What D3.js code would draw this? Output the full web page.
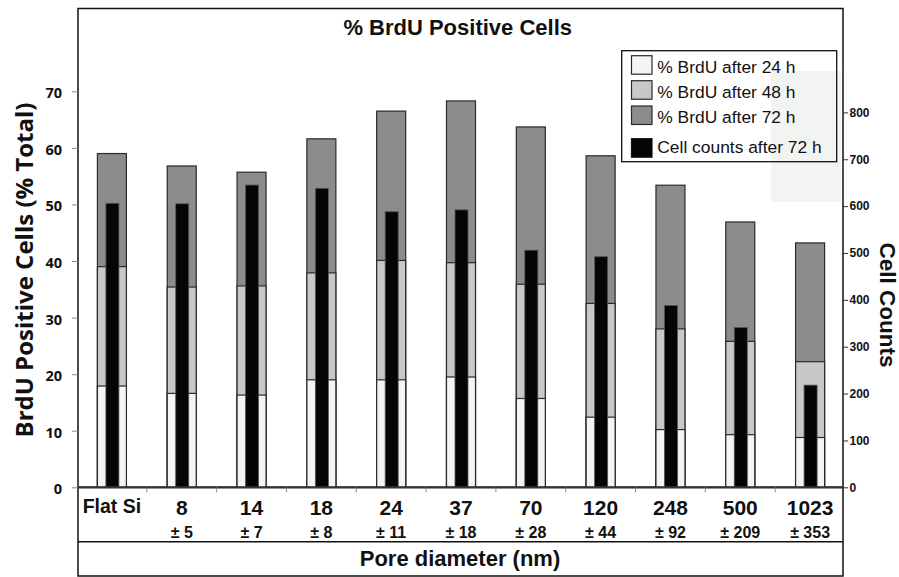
<!DOCTYPE html>
<html><head><meta charset="utf-8">
<script src="https://cdn.jsdelivr.net/npm/d3@7"></script>
<style>html,body{margin:0;padding:0;background:#fff;}svg{display:block;}</style>
</head><body>
<svg id="chart" width="899" height="577"></svg>
<script>
// ---- data ----
const categories = ["Flat Si","8","14","18","24","37","70","120","248","500","1023"];
const poreSD = ["","± 5","± 7","± 8","± 11","± 18","± 28","± 44","± 92","± 209","± 353"];
const brdu24 = [17.9,16.6,16.3,19.0,19.0,19.5,15.7,12.4,10.2,9.3,8.8];
const brdu48 = [39.0,35.4,35.6,37.9,40.1,39.7,35.9,32.5,28.0,25.8,22.2];
const brdu72 = [59.0,56.8,55.7,61.6,66.5,68.3,63.7,58.6,53.4,46.9,43.2];
const cellCounts = [606,605,645,638,588,592,506,492,388,341,218];
const leftTicks = [0,10,20,30,40,50,60,70];
const rightTicks = [0,100,200,300,400,500,600,700,800];
const legendLabels = ["% BrdU after 24 h","% BrdU after 48 h","% BrdU after 72 h","Cell counts after 72 h"];
const titleText = "% BrdU Positive Cells";
const yLeftTitle = "BrdU Positive Cells (% Total)";
const yRightTitle = "Cell Counts";
const xTitle = "Pore diameter (nm)";

// ---- layout ----
const svg = d3.select("#chart");
const L = 78, R = 843, T = 8.5, B = 487.3, labBot = 541.7, bot = 576;
const col24 = "#f3f4f3", col48 = "#c8c8c8", col72 = "#8c8c8c", colCell = "#050505", edge = "#2a2a2a";

const x = d3.scaleBand().domain(categories).range([77, 845]);
const yL = d3.scaleLinear().domain([0,70]).range([B, 91.3]);
const yR = d3.scaleLinear().domain([0,800]).range([B, 112.4]);
const bw = 29, cw = 13;
const cx = c => x(c) + x.bandwidth()/2;

// light artifact rect
svg.append("rect").attr("x",771).attr("y",71).attr("width",70).attr("height",131).attr("fill","#f2f4f2");

// frame
svg.append("rect").attr("x",L).attr("y",T).attr("width",R-L).attr("height",B-T)
  .attr("fill","none").attr("stroke","#111").attr("stroke-width",1.5);
// label boxes
svg.append("path").attr("d",`M${L},${B}V${bot}H${R}V${B}M${L},${labBot}H${R}`)
  .attr("fill","none").attr("stroke","#111").attr("stroke-width",1.5);

// title
svg.append("text").attr("x",457.7).attr("y",35).attr("text-anchor","middle")
  .attr("font-family","Liberation Sans, Arial, sans-serif").attr("font-weight","bold")
  .attr("font-size",22).attr("fill","#111").text(titleText);

// bars
const g = svg.append("g");
categories.forEach((c,i) => {
  const x0 = cx(c) - bw/2;
  g.append("rect").attr("x",x0).attr("y",yL(brdu72[i])).attr("width",bw).attr("height",B-yL(brdu72[i]))
    .attr("fill",col72).attr("stroke",edge).attr("stroke-width",1.2);
  g.append("rect").attr("x",x0).attr("y",yL(brdu48[i])).attr("width",bw).attr("height",B-yL(brdu48[i]))
    .attr("fill",col48).attr("stroke",edge).attr("stroke-width",1.2);
  g.append("rect").attr("x",x0).attr("y",yL(brdu24[i])).attr("width",bw).attr("height",B-yL(brdu24[i]))
    .attr("fill",col24).attr("stroke",edge).attr("stroke-width",1.2);
  g.append("rect").attr("x",cx(c)-cw/2+0.5).attr("y",yR(cellCounts[i])).attr("width",cw).attr("height",B-yR(cellCounts[i]))
    .attr("fill",colCell).attr("stroke","#555").attr("stroke-width",0.8);
});

// x axis line
svg.append("line").attr("x1",L).attr("x2",R).attr("y1",B).attr("y2",B).attr("stroke","#333").attr("stroke-width",2.2);
// x ticks at boundaries
categories.slice(1).forEach(c => {
  svg.append("line").attr("x1",x(c)).attr("x2",x(c)).attr("y1",B).attr("y2",B+5).attr("stroke","#888").attr("stroke-width",1);
});

// left axis
const axL = svg.append("g").attr("transform",`translate(${L},0)`)
  .call(d3.axisLeft(yL).tickValues(leftTicks).tickSize(6).tickPadding(10));
axL.select(".domain").remove();
axL.selectAll(".tick line").attr("stroke","#888");
axL.selectAll(".tick text").attr("font-family","Open Sans, sans-serif").attr("font-weight","bold")
  .attr("font-size",14.5).attr("fill","#111").attr("dy","0.45em");

// right axis
const axR = svg.append("g").attr("transform",`translate(${R},0)`)
  .call(d3.axisRight(yR).tickValues(rightTicks).tickSize(5).tickPadding(1.5));
axR.select(".domain").remove();
axR.selectAll(".tick line").attr("stroke","#333");
axR.selectAll(".tick text").attr("font-family","Liberation Sans, Arial, sans-serif").attr("font-weight","bold")
  .attr("font-size",12).attr("fill","#111");

// x category labels
categories.forEach((c,i) => {
  svg.append("text").attr("x",cx(c)).attr("y", i===0 ? 512.7 : 515.3).attr("text-anchor","middle")
    .attr("font-family","Liberation Sans, Arial, sans-serif").attr("font-weight","bold")
    .attr("font-size", i===0 ? 19.5 : 21).attr("fill","#111").text(c);
  if (poreSD[i]) {
    svg.append("text").attr("x",cx(c)).attr("y",537.7).attr("text-anchor","middle")
      .attr("font-family","Liberation Sans, Arial, sans-serif").attr("font-weight","bold")
      .attr("font-size",16).attr("fill","#111").text(poreSD[i]);
  }
});

// x title
svg.append("text").attr("x",460).attr("y",566).attr("text-anchor","middle")
  .attr("font-family","Liberation Sans, Arial, sans-serif").attr("font-weight","bold")
  .attr("font-size",22).attr("fill","#111").text(xTitle);

// left y title
svg.append("text").attr("transform","translate(33,270) rotate(-90)").attr("text-anchor","middle")
  .attr("font-family","Open Sans, sans-serif").attr("font-weight","bold")
  .attr("font-size",24).attr("fill","#111").text(yLeftTitle);

// right y title
svg.append("text").attr("transform","translate(880,305) rotate(90)").attr("text-anchor","middle")
  .attr("font-family","Liberation Sans, Arial, sans-serif").attr("font-weight","bold")
  .attr("font-size",22.5).attr("fill","#111").text(yRightTitle);

// legend
const leg = svg.append("g");
leg.append("rect").attr("x",621.7).attr("y",50.7).attr("width",215).attr("height",111)
  .attr("fill","none").attr("stroke","#111").attr("stroke-width",1.3);
const swY = [55.7,80.7,106,138.7];
const txY = [73.3,98.3,122.7,153.3];
const swCol = [col24,col48,col72,colCell];
legendLabels.forEach((t,i) => {
  leg.append("rect").attr("x",631.5).attr("y",swY[i]).attr("width",20.5).attr("height",18.5)
    .attr("fill",swCol[i]).attr("stroke",i===3?"#111":edge).attr("stroke-width",1.2);
  leg.append("text").attr("x",657.3).attr("y",txY[i])
    .attr("font-family","Liberation Sans, Arial, sans-serif").attr("font-size",17.4).attr("fill","#111").text(t);
});
</script>
</body></html>
